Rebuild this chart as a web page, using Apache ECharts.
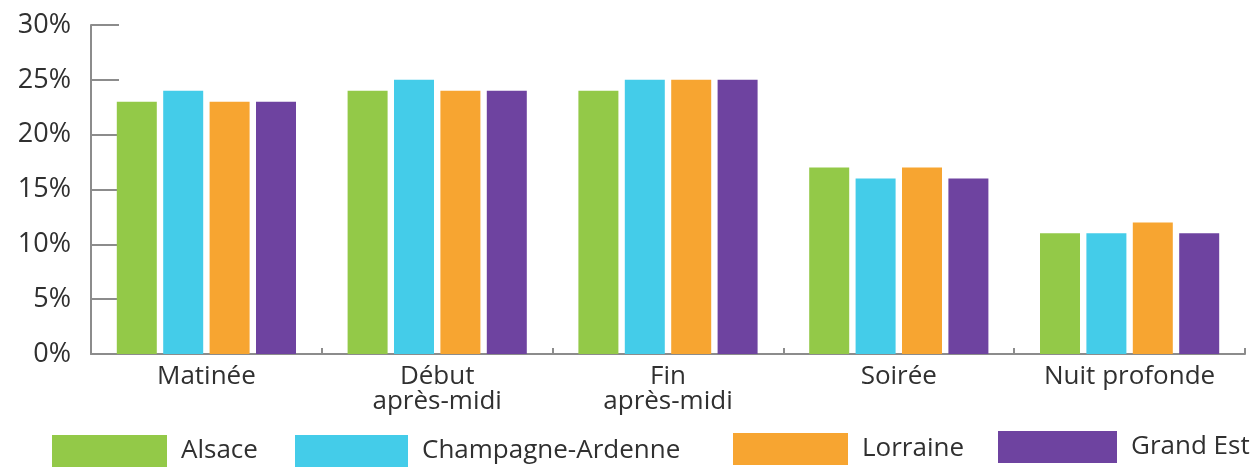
<!DOCTYPE html>
<html lang="fr">
<head>
<meta charset="utf-8">
<title>Répartition par tranche horaire</title>
<script src="https://cdn.jsdelivr.net/npm/echarts@6/dist/echarts.min.js"></script>
<style>
  html, body { margin: 0; padding: 0; background: #ffffff; }
  #chart { width: 1255px; height: 468px; }
</style>
</head>
<body>
<div id="chart"></div>
<script>
// Time slots (x categories)
const categories = ['Matinée', 'Début\naprès-midi', 'Fin\naprès-midi', 'Soirée', 'Nuit profonde'];

// Share of each time slot, in %
const alsace = [23, 24, 24, 17, 11];
const champagneArdenne = [24, 25, 25, 16, 11];
const lorraine = [23, 24, 25, 17, 12];
const grandEst = [23, 24, 25, 16, 11];

const seriesNames = ['Alsace', 'Champagne-Ardenne', 'Lorraine', 'Grand Est'];
const seriesData = [alsace, champagneArdenne, lorraine, grandEst];
const colors = ['#93c948', '#44cce9', '#f7a531', '#6e43a0'];

// Y axis ticks
const yTicks = [0, 5, 10, 15, 20, 25, 30];

const FONT = "'Open Sans', 'Noto Sans', sans-serif";
const TEXT = '#303030';
const AXIS = '#8c8c8c';
const WEIGHT = 500;

// One legend block per region, placed along the bottom row
const legendSpecs = [
  { name: 'Alsace', left: 52, top: 435, w: 115 },
  { name: 'Champagne-Ardenne', left: 295, top: 435, w: 113 },
  { name: 'Lorraine', left: 733, top: 433, w: 115 },
  { name: 'Grand Est', left: 998, top: 431, w: 119 }
];

const chart = echarts.init(document.getElementById('chart'), null, { renderer: 'canvas' });

chart.setOption({
  animation: false,
  color: colors,
  textStyle: { fontFamily: FONT },
  grid: { left: 91, right: 10, top: 25, bottom: 114, containLabel: false },
  legend: legendSpecs.map(s => ({
    data: [s.name],
    left: s.left,
    top: s.top,
    padding: 0,
    icon: 'rect',
    itemWidth: s.w,
    itemHeight: 32,
    selectedMode: false,
    textStyle: {
      fontFamily: FONT,
      fontSize: 26,
      fontWeight: WEIGHT,
      color: TEXT,
      padding: [8, 0, 0, 9]
    }
  })),
  xAxis: {
    type: 'category',
    data: categories,
    axisLine: { show: true, lineStyle: { color: AXIS, width: 2 } },
    axisTick: { show: true, inside: true, length: 6, interval: 0, lineStyle: { color: AXIS, width: 2 } },
    axisLabel: {
      interval: 0,
      margin: 10,
      fontFamily: FONT,
      fontSize: 26,
      fontWeight: WEIGHT,
      lineHeight: 25,
      color: TEXT
    },
    splitLine: { show: false }
  },
  yAxis: {
    type: 'value',
    min: yTicks[0],
    max: yTicks[yTicks.length - 1],
    interval: yTicks[1] - yTicks[0],
    axisLine: { show: true, lineStyle: { color: AXIS, width: 2 } },
    axisTick: { show: true, inside: true, length: 28, lineStyle: { color: AXIS, width: 2 } },
    axisLabel: {
      margin: 20,
      fontFamily: FONT,
      fontSize: 27,
      fontWeight: WEIGHT,
      color: TEXT,
      padding: [5, 0, 0, 0],
      formatter: '{value}%'
    },
    splitLine: { show: false }
  },
  series: seriesNames.map((name, i) => ({
    name: name,
    type: 'bar',
    data: seriesData[i],
    barWidth: 40,
    barGap: '16%',
    itemStyle: { color: colors[i] }
  }))
});
</script>
</body>
</html>
